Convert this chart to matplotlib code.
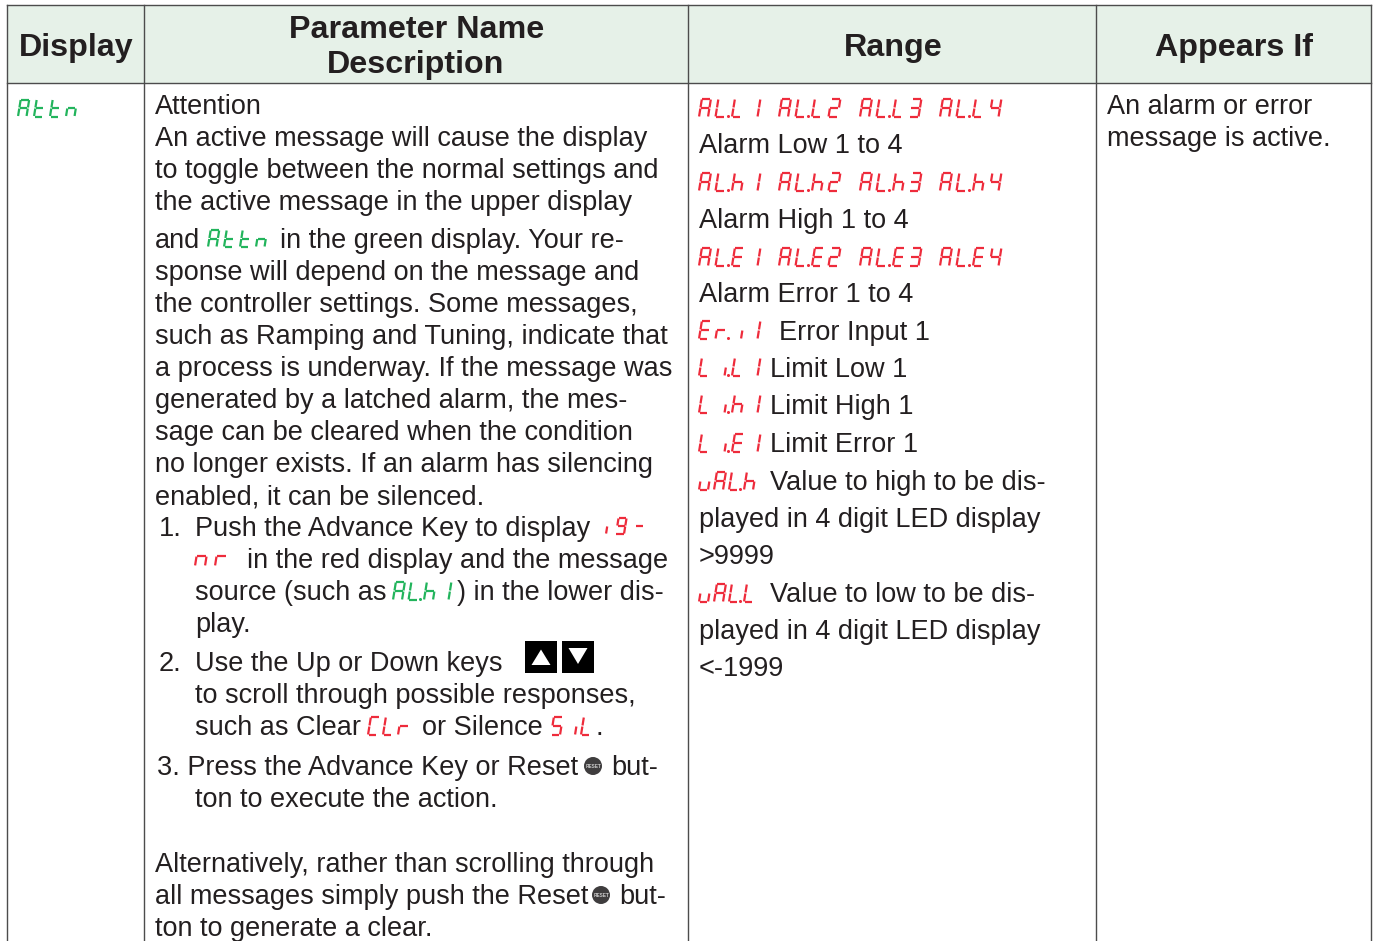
import matplotlib
matplotlib.use("Agg")
import matplotlib.pyplot as plt
from matplotlib.patches import Rectangle, Circle

INK = "#231f20"
RED = "#ee2b3b"
GREEN = "#22b45c"
HEAD_BG = "#e6f1e8"
RULE = "#4c4c4c"

headers = ["Display", "Parameter Name", "Description", "Range", "Appears If"]

desc_lines = [
    (155, 114, "Attention"),
    (155, 146, "An active message will cause the display"),
    (155, 178, "to toggle between the normal settings and"),
    (155, 210, "the active message in the upper display"),
    (155, 248, "and"),
    (280, 248, "in the green display. Your re-"),
    (155, 280, "sponse will depend on the message and"),
    (155, 312, "the controller settings. Some messages,"),
    (155, 344, "such as Ramping and Tuning, indicate that"),
    (155, 376, "a process is underway. If the message was"),
    (155, 408, "generated by a latched alarm, the mes-"),
    (155, 440, "sage can be cleared when the condition"),
    (155, 472, "no longer exists. If an alarm has silencing"),
    (155, 504, "enabled, it can be silenced."),
    (159, 536, "1."),
    (195, 536, "Push the Advance Key to display"),
    (247, 568, "in the red display and the message"),
    (195, 600, "source (such as"),
    (457, 600, ") in the lower dis-"),
    (195, 632, "play."),
    (159, 671, "2."),
    (195, 671, "Use the Up or Down keys"),
    (195, 703, "to scroll through possible responses,"),
    (195, 735, "such as Clear"),
    (422, 735, "or Silence"),
    (596, 735, "."),
    (157, 775, "3. Press the Advance Key or Reset"),
    (611, 775, "but-"),
    (195, 807, "ton to execute the action."),
    (155, 872, "Alternatively, rather than scrolling through"),
    (155, 904, "all messages simply push the Reset"),
    (619, 904, "but-"),
    (155, 936, "ton to generate a clear."),
]

range_lines = [
    (699, 153, "Alarm Low 1 to 4"),
    (699, 228, "Alarm High 1 to 4"),
    (699, 302, "Alarm Error 1 to 4"),
    (779, 340, "Error Input 1"),
    (770, 377, "Limit Low 1"),
    (770, 414, "Limit High 1"),
    (770, 452, "Limit Error 1"),
    (770, 490, "Value to high to be dis-"),
    (699, 527, "played in 4 digit LED display"),
    (699, 564, ">9999"),
    (770, 602, "Value to low to be dis-"),
    (699, 639, "played in 4 digit LED display"),
    (699, 676, "<-1999"),
]

appears_lines = [
    (1107, 114, "An alarm or error"),
    (1107, 146, "message is active."),
]

# readout text, left x, baseline y, colour, digit pitch, digit height
readouts = [
    ("Attn", 18, 116.5, GREEN, 16, 17),
    ("Attn", 208, 247, GREEN, 16, 17),
    ("AL.h1", 393, 600, GREEN, 15.5, 18),
    ("i9-", 598, 534, RED, 18, 16),
    ("nr", 195, 566, RED, 20, 20),
    ("CLr", 368, 735, RED, 15, 18),
    ("SiL", 551, 735, RED, 15, 18),
    ("AL.L1", 699, 117, RED, 16.5, 18),
    ("AL.L2", 779, 117, RED, 16.5, 18),
    ("AL.L3", 860, 117, RED, 16.5, 18),
    ("AL.L4", 940, 117, RED, 16.5, 18),
    ("AL.h1", 699, 191, RED, 16.5, 18),
    ("AL.h2", 779, 191, RED, 16.5, 18),
    ("AL.h3", 860, 191, RED, 16.5, 18),
    ("AL.h4", 940, 191, RED, 16.5, 18),
    ("AL.E1", 699, 266, RED, 16.5, 18),
    ("AL.E2", 779, 266, RED, 16.5, 18),
    ("AL.E3", 860, 266, RED, 16.5, 18),
    ("AL.E4", 940, 266, RED, 16.5, 18),
    ("Er.i1", 699, 339, RED, 16.5, 18),
    ("Li.L1", 699, 376, RED, 16.5, 18),
    ("Li.h1", 699, 413, RED, 16.5, 18),
    ("Li.E1", 699, 452, RED, 16.5, 18),
    ("uAL.h", 699, 490, RED, 15, 18),
    ("uAL.L", 699, 602, RED, 15, 18),
]

# seven segment letters
SEGMENTS = {
    "A": "abcefg", "L": "def", "E": "adefg", "h": "cefg", "t": "defg",
    "n": "ceg", "r": "eg", "i": "c", "u": "cde", "C": "adef", "S": "acdfg",
    "1": "bc", "2": "abdeg", "3": "abcdg", "4": "bcfg", "9": "abcdfg", "-": "g",
}


def draw_readout(ax, text, x0, base, color, pitch, height):
    w = height * 0.5
    slant = height * 0.16
    mid = height / 2
    gap = height * 0.03
    ends = {
        "a": ((gap, height), (w - gap, height)),
        "b": ((w, height - gap), (w, mid + gap)),
        "c": ((w, mid - gap), (w, gap)),
        "d": ((gap, 0), (w - gap, 0)),
        "e": ((0, gap), (0, mid - gap)),
        "f": ((0, mid + gap), (0, height - gap)),
        "g": ((gap, mid), (w - gap, mid)),
    }
    x = x0
    for ch in text:
        if ch == ".":
            ax.plot([x - 4.5], [base - 1], marker="o", ms=2.2, color=color, mew=0)
            continue
        for seg in SEGMENTS[ch]:
            (xa, ya), (xb, yb) = ends[seg]
            ax.plot([x + xa + ya / height * slant, x + xb + yb / height * slant],
                    [base - ya, base - yb], color=color, lw=1.6, solid_capstyle="butt")
        x += pitch


plt.rcParams["font.family"] = ["Liberation Sans", "DejaVu Sans"]

fig = plt.figure(figsize=(13.74, 9.41), dpi=100)
ax = fig.add_axes([0, 0, 1, 1])
ax.set_xlim(0, 1374)
ax.set_ylim(941, 0)
ax.axis("off")

# table frame
ax.add_patch(Rectangle((7, 4.5), 1364, 78.5, fc=HEAD_BG, ec="none"))
for x in [7, 144, 687.5, 1096, 1371]:
    ax.plot([x, x], [4.5, 941], color=RULE, lw=1.0)
for y in [4.5, 83]:
    ax.plot([7, 1371], [y, y], color=RULE, lw=1.0)

# header
head_size = 23.2
ax.text(76, 55.5, headers[0], ha="center", va="baseline", fontsize=head_size, fontweight="bold", color=INK)
ax.text(416.5, 37.5, headers[1], ha="center", va="baseline", fontsize=head_size, fontweight="bold", color=INK)
ax.text(416, 72.5, headers[2], ha="center", va="baseline", fontsize=head_size, fontweight="bold", color=INK)
ax.text(893, 55.5, headers[3], ha="center", va="baseline", fontsize=head_size, fontweight="bold", color=INK)
ax.text(1234, 55.5, headers[4], ha="center", va="baseline", fontsize=head_size, fontweight="bold", color=INK)

# body text
body_size = 19.5
for x, y, s in desc_lines + range_lines + appears_lines:
    ax.text(x, y, s, ha="left", va="baseline", fontsize=body_size, color=INK)

for item in readouts:
    draw_readout(ax, *item)

# up and down keys
for x, tip, flat in [(525, 649.5, 665), (562, 664, 648)]:
    ax.add_patch(Rectangle((x, 641), 32, 32, fc="black", ec="none"))
    ax.fill([x + 16, x + 6.5, x + 25.5], [tip, flat, flat], color="white", lw=0)

# reset buttons
for x, y in [(593, 766), (601, 895)]:
    ax.add_patch(Circle((x, y), 9, fc="#3f3d3e", ec="none"))
    ax.text(x, y + 0.3, "RESET", ha="center", va="center", fontsize=3.4, fontweight="bold", color="#cccccc")

fig.savefig("out.png", dpi=100)
